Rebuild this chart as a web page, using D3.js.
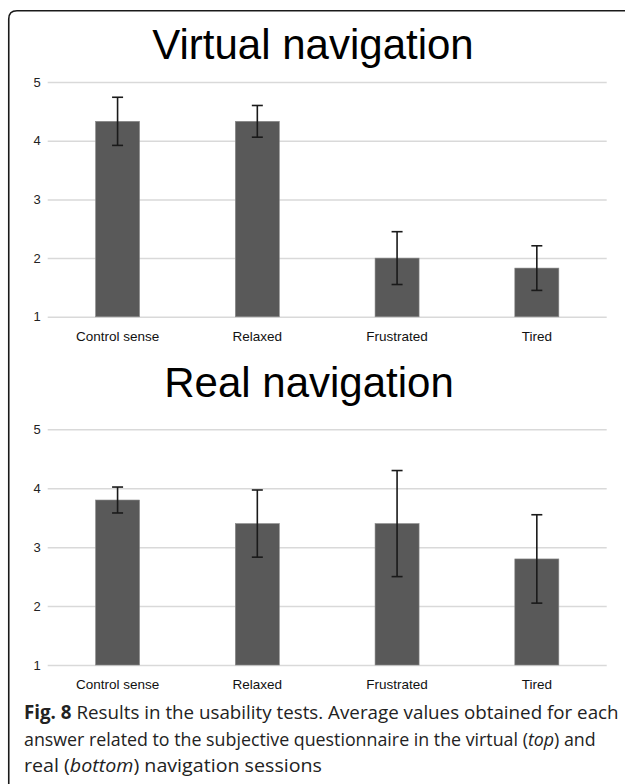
<!DOCTYPE html>
<html>
<head>
<meta charset="utf-8">
<script src="https://cdn.jsdelivr.net/npm/d3@7"></script>
<style>
  html, body { margin: 0; padding: 0; background: #fff; }
  svg { display: block; }
</style>
</head>
<body>
<svg id="chart" width="625" height="784"></svg>
<script>
// ---- Data ----
const categories = ["Control sense", "Relaxed", "Frustrated", "Tired"];
const virtualMeans = [4.33, 4.33, 2.0, 1.83];
const virtualSD = [0.41, 0.27, 0.45, 0.38];
const realMeans = [3.8, 3.4, 3.4, 2.8];
const realSD = [0.22, 0.57, 0.9, 0.75];
const yTicks = [1, 2, 3, 4, 5];
const titles = ["Virtual navigation", "Real navigation"];
const captionBold = "Fig. 8";
const captionLines = [
  " Results in the usability tests. Average values obtained for each",
  "answer related to the subjective questionnaire in the virtual (",
  "real ("
];

const svg = d3.select("#chart");

// Frame (rounded top-left corner, open at bottom/right)
svg.append("path")
  .attr("d", "M8.75,784 L8.75,19 Q8.75,10.75 17,10.75 L625,10.75")
  .attr("fill", "none")
  .attr("stroke", "#1a1a1a")
  .attr("stroke-width", 1.6);

const x = d3.scaleBand()
  .domain(categories)
  .range([47.7, 606.7])
  .paddingInner(0.685)
  .paddingOuter(0.3425);

function panel(cfg) {
  const y = d3.scaleLinear().domain([1, 5]).range([cfg.y0, cfg.y1]);
  const g = svg.append("g");

  g.append("text")
    .attr("x", cfg.titleX)
    .attr("y", cfg.titleY)
    .attr("text-anchor", "middle")
    .attr("font-family", "Liberation Sans, Arial, sans-serif")
    .attr("font-size", 42)
    .attr("fill", "#000")
    .text(cfg.title);

  const yAxis = d3.axisLeft(y).tickValues(yTicks).tickSize(-(x.range()[1] - x.range()[0])).tickPadding(7).tickFormat(d3.format("d"));
  const ax = g.append("g").attr("transform", `translate(${x.range()[0]},0)`).call(yAxis);
  ax.select(".domain").remove();
  ax.selectAll(".tick line").attr("stroke", "#d9d9d9").attr("stroke-width", 1.5);
  ax.selectAll(".tick text")
    .attr("font-family", "Liberation Sans, Arial, sans-serif")
    .attr("font-size", 13)
    .attr("fill", "#222");

  g.selectAll("rect.bar")
    .data(cfg.means)
    .join("rect")
    .attr("class", "bar")
    .attr("x", (d, i) => x(categories[i]))
    .attr("width", x.bandwidth())
    .attr("y", d => y(d))
    .attr("height", d => y(1) - y(d))
    .attr("fill", "#595959")
    .attr("stroke", "#8a8a8a")
    .attr("stroke-width", 0.6);

  const capW = 5.5;
  const eb = g.selectAll("g.err")
    .data(cfg.means.map((m, i) => ({ m, s: cfg.sd[i], c: categories[i] })))
    .join("g").attr("class", "err")
    .attr("stroke", "#1a1a1a").attr("stroke-width", 1.6);
  eb.append("line")
    .attr("x1", d => x(d.c) + x.bandwidth() / 2)
    .attr("x2", d => x(d.c) + x.bandwidth() / 2)
    .attr("y1", d => y(d.m + d.s))
    .attr("y2", d => y(d.m - d.s));
  eb.append("line")
    .attr("x1", d => x(d.c) + x.bandwidth() / 2 - capW)
    .attr("x2", d => x(d.c) + x.bandwidth() / 2 + capW)
    .attr("y1", d => y(d.m + d.s))
    .attr("y2", d => y(d.m + d.s));
  eb.append("line")
    .attr("x1", d => x(d.c) + x.bandwidth() / 2 - capW)
    .attr("x2", d => x(d.c) + x.bandwidth() / 2 + capW)
    .attr("y1", d => y(d.m - d.s))
    .attr("y2", d => y(d.m - d.s));

  g.selectAll("text.xl")
    .data(categories)
    .join("text")
    .attr("class", "xl")
    .attr("x", d => x(d) + x.bandwidth() / 2)
    .attr("y", cfg.y0 + 24)
    .attr("text-anchor", "middle")
    .attr("font-family", "Liberation Sans, Arial, sans-serif")
    .attr("font-size", 13.5)
    .attr("fill", "#111")
    .text(d => d);
}

panel({ title: titles[0], titleX: 313, titleY: 59, y0: 316.8, y1: 82, means: virtualMeans, sd: virtualSD });
panel({ title: titles[1], titleX: 309, titleY: 397, y0: 665, y1: 429.3, means: realMeans, sd: realSD });

// Caption: each line scaled horizontally to the reference width
const cap = svg.append("g")
  .attr("font-family", "Open Sans, Noto Sans, sans-serif")
  .attr("font-size", 19)
  .attr("fill", "#222");

function capLine(yPos, target, parts) {
  const g = cap.append("g");
  const t = g.append("text").attr("x", 0).attr("y", 0);
  parts.forEach(p => {
    const s = t.append("tspan").text(p.t);
    if (p.b) s.attr("font-weight", "bold");
    if (p.i) s.attr("font-style", "italic");
  });
  const w = t.node().getComputedTextLength();
  g.attr("transform", `translate(24,${yPos}) scale(${target / w},1)`);
}

capLine(719, 595, [{ t: captionBold, b: true }, { t: captionLines[0] }]);
capLine(746, 572, [{ t: captionLines[1] }, { t: "top", i: true }, { t: ") and" }]);
capLine(772, 298, [{ t: captionLines[2] }, { t: "bottom", i: true }, { t: ") navigation sessions" }]);
</script>
</body>
</html>
